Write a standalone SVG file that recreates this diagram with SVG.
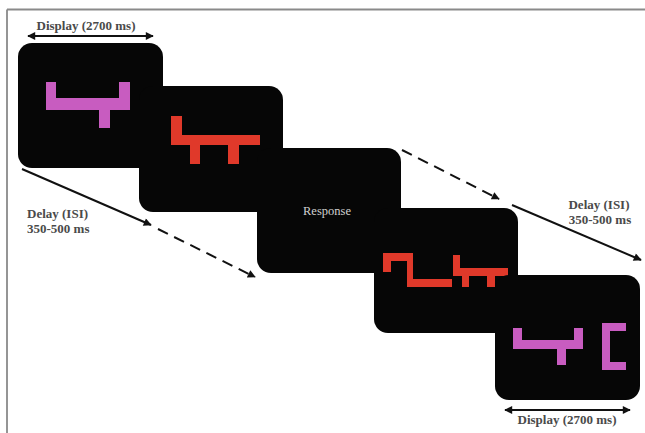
<svg xmlns="http://www.w3.org/2000/svg" width="645" height="433" viewBox="0 0 645 433">
<defs>
<style>
.panel{fill:#060606}
.mag{fill:#c85cc0}
.red{fill:#e0392a}
.lbl{font-family:"Liberation Serif","Times New Roman",serif;font-size:13px;fill:#4a4a4a;font-weight:bold}
.resp{font-family:"Liberation Serif","Times New Roman",serif;font-size:12.5px;fill:#d0d0d0}
.ln{stroke:#111;stroke-width:2;fill:none}
.dash{stroke-dasharray:11 7}
</style>
<marker id="ah" viewBox="0 0 10 10" refX="9" refY="5" markerWidth="10" markerHeight="8" markerUnits="userSpaceOnUse" orient="auto-start-reverse">
<path d="M0,0 L10,5 L0,10 z" fill="#111"/>
</marker>
</defs>
<rect width="645" height="433" fill="#fff"/>
<g id="frame" stroke="#8a8a8a" stroke-width="1.8">
<line x1="7" y1="9.5" x2="645" y2="9.5"/>
<line x1="7" y1="9.5" x2="7" y2="433"/>
</g>
<g id="panel1">
<rect class="panel" x="18" y="43" width="145" height="125" rx="14"/>
<path class="mag" d="M46,82h10v16h63v-16h11v28h-20v18h-11v-18h-53z"/>
</g>
<g id="panel2">
<rect class="panel" x="139" y="86" width="144" height="126" rx="14"/>
<path class="red" d="M171,116h11v19h78v10h-21v19h-11v-19h-28v19h-10v-19h-19z"/>
</g>
<g id="panel3">
<rect class="panel" x="257" y="148" width="144" height="125" rx="14"/>
<text class="resp" x="327" y="215" text-anchor="middle">Response</text>
</g>
<g id="panel4">
<rect class="panel" x="374" y="208" width="144" height="125" rx="14"/>
<path class="red" d="M383,253h30v26h39v8h-45v-26h-16v11h-8z"/>
<path class="red" d="M453,255h7v13h48v8h-13v11h-8v-11h-18v11h-7v-11h-9z"/>
</g>
<g id="panel5">
<rect class="panel" x="495" y="275" width="145" height="125" rx="14"/>
<path class="mag" d="M513,328h9v12h52v-12h9v21h-17v16h-9v-16h-44z"/>
<path class="mag" d="M602,323h24v8h-16v31h16v8h-24z"/>
</g>
<g id="connectors">
<line class="ln" x1="28" y1="36" x2="153" y2="36" marker-start="url(#ah)" marker-end="url(#ah)"/>
<line class="ln" x1="505" y1="410" x2="630" y2="410" marker-start="url(#ah)" marker-end="url(#ah)"/>
<line class="ln" x1="22" y1="169" x2="151" y2="225" marker-end="url(#ah)"/>
<line class="ln dash" x1="158" y1="229" x2="255" y2="277" marker-end="url(#ah)"/>
<line class="ln dash" x1="402" y1="150" x2="499" y2="199" marker-end="url(#ah)"/>
<line class="ln" x1="512" y1="205" x2="641" y2="260" marker-end="url(#ah)"/>
</g>
<g id="labels">
<text class="lbl" x="86" y="30" text-anchor="middle">Display (2700 ms)</text>
<text class="lbl" x="567" y="424" text-anchor="middle">Display (2700 ms)</text>
<text class="lbl" x="27" y="218">Delay (ISI)</text>
<text class="lbl" x="27" y="233">350-500 ms</text>
<text class="lbl" x="599" y="209" text-anchor="middle">Delay (ISI)</text>
<text class="lbl" x="600" y="224" text-anchor="middle">350-500 ms</text>
</g>
</svg>
